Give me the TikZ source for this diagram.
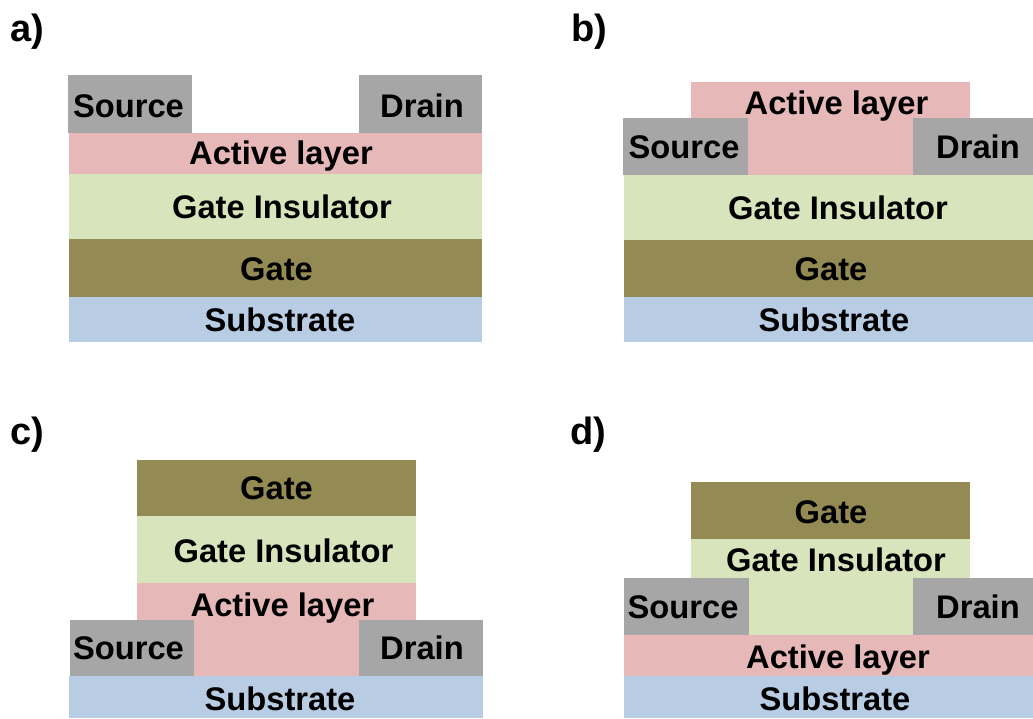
\documentclass[tikz,border=0pt]{standalone}
\usepackage{fontspec}
\setmainfont{Liberation Sans}
\usetikzlibrary{positioning}
\definecolor{contactgray}{HTML}{A6A6A6}
\definecolor{activepink}{HTML}{E6B8B7}
\definecolor{insulgreen}{HTML}{D8E4BC}
\definecolor{gatebrown}{HTML}{948A54}
\definecolor{subblue}{HTML}{B8CCE4}
\tikzstyle{contact} = [fill=contactgray]
\tikzstyle{active} = [fill=activepink]
\tikzstyle{insul} = [fill=insulgreen]
\tikzstyle{gate} = [fill=gatebrown]
\tikzstyle{subst} = [fill=subblue]
\tikzstyle{txt} = [anchor=base, inner sep=0pt, yshift=-1.2pt, text=black, font={\fontsize{32.7}{38}\selectfont\bfseries}]
\tikzstyle{panel} = [anchor=base, inner sep=0pt, yshift=-1.5pt, text=black, font={\fontsize{38}{44}\selectfont\bfseries}]

\begin{document}
\begin{tikzpicture}[x=1pt, y=-1pt]
    \useasboundingbox (0,0) rectangle (1033,718);
    % a
    \node [panel] (lbla) at (27.5,40) {a)};
    \path [subst] (69,297) rectangle (482,342);
    \path [gate] (69,239) rectangle (482,297);
    \path [insul] (69,174) rectangle (482,239);
    \path [active] (69,133) rectangle (482,174);
    \path [contact] (67.5,75) rectangle (192,133);
    \path [contact] (359,75) rectangle (482,133);
    \node [txt] (asource) at (128.5,116) {Source};
    \node [txt] (adrain) at (422,116) {Drain};
    \node [txt] (aactive) at (281,163) {Active layer};
    \node [txt] (ainsul) at (282,217) {Gate Insulator};
    \node [txt] (agate) at (276.5,279) {Gate};
    \node [txt] (asubst) at (280,330) {Substrate};
    % b
    \node [panel] (lblb) at (589,40) {b)};
    \path [subst] (624,297) rectangle (1033,342);
    \path [gate] (624,240) rectangle (1033,297);
    \path [insul] (624,175) rectangle (1033,240);
    \path [active] (691,82) rectangle (970,175);
    \path [contact] (623,117.5) rectangle (748,175);
    \path [contact] (913,117.5) rectangle (1033,175);
    \node [txt] (bactive) at (836.5,113) {Active layer};
    \node [txt] (bsource) at (684,157) {Source};
    \node [txt] (bdrain) at (978,157) {Drain};
    \node [txt] (binsul) at (838,218) {Gate Insulator};
    \node [txt] (bgate) at (831,279) {Gate};
    \node [txt] (bsubst) at (834,330) {Substrate};
    % c
    \node [panel] (lblc) at (27.5,443) {c)};
    \path [gate] (137,460) rectangle (416,516);
    \path [insul] (137,516) rectangle (416,583);
    \path [active] (137,583) rectangle (416,676);
    \path [contact] (70,620) rectangle (193.5,676);
    \path [contact] (359,620) rectangle (483,676);
    \path [subst] (69,676) rectangle (483,718);
    \node [txt] (cgate) at (276.5,498) {Gate};
    \node [txt] (cinsul) at (283.5,561) {Gate Insulator};
    \node [txt] (cactive) at (282.5,615) {Active layer};
    \node [txt] (csource) at (128.5,658) {Source};
    \node [txt] (cdrain) at (422,658) {Drain};
    \node [txt] (csubst) at (280,709) {Substrate};
    % d
    \node [panel] (lbld) at (588.5,443) {d)};
    \path [gate] (691,481.5) rectangle (970,539);
    \path [insul] (691,539) rectangle (970,635);
    \path [contact] (624,577.5) rectangle (748.5,635);
    \path [contact] (913,577.5) rectangle (1033,635);
    \path [active] (624,635) rectangle (1033,676);
    \path [subst] (624,676) rectangle (1033,718);
    \node [txt] (dgate) at (831,522) {Gate};
    \node [txt] (dinsul) at (836,570) {Gate Insulator};
    \node [txt] (dsource) at (683,617) {Source};
    \node [txt] (ddrain) at (978,617) {Drain};
    \node [txt] (dactive) at (838,667) {Active layer};
    \node [txt] (dsubst) at (835,709) {Substrate};
\end{tikzpicture}
\end{document}
